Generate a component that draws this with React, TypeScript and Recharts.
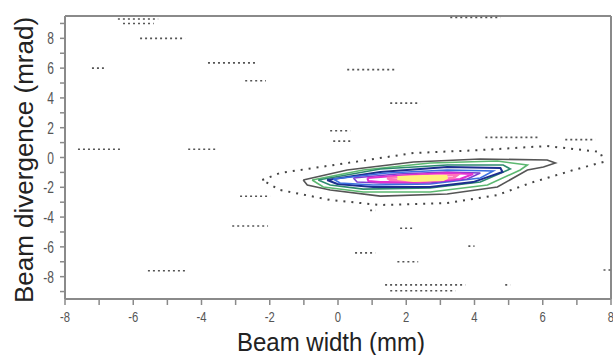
import { ComposedChart, Scatter, XAxis, YAxis, Label } from "recharts"

// contour levels, outermost first: [x (mm), y (mrad)] vertices
const dotted = [
  [-2.22, -1.51], [-1.7, -1.04], [0.27, -0.37], [2.21, 0.3], [4.17, 0.5], [6.13, 0.77],
  [7.69, 0.37], [7.78, -0.3], [6.9, -0.84], [5.64, -1.71], [4.67, -2.52], [3.2, -3.06],
  [1.24, -3.19], [-0.23, -2.85], [-1.7, -2.18], [-2.22, -1.51],
]
const grayLevel = [
  [-1.02, -1.51], [0.27, -0.84], [2.21, -0.3], [4.17, -0.1], [6.13, -0.17], [6.37, -0.37],
  [6.02, -0.64], [5.55, -0.84], [4.67, -1.98], [3.2, -2.45], [1.24, -2.59], [-0.23, -2.18],
  [-0.9, -1.85], [-1.02, -1.51],
]
const greenLevel = [
  [-0.76, -1.51], [0.74, -0.84], [2.7, -0.37], [4.67, -0.24], [5.55, -0.5], [5.34, -0.84],
  [4.38, -1.85], [2.7, -2.32], [0.74, -2.32], [-0.43, -1.98], [-0.76, -1.51],
]
const tealLevel = [
  [-0.58, -1.51], [1.24, -0.77], [3.2, -0.5], [4.84, -0.5], [5.05, -0.77], [4.17, -1.65],
  [2.7, -2.05], [0.74, -2.12], [-0.23, -1.85], [-0.58, -1.51],
]
const navyLevel = [
  [-0.32, -1.51], [1.24, -0.97], [3.2, -0.64], [4.76, -0.71], [4.82, -0.97], [3.96, -1.65],
  [2.7, -1.98], [1.03, -1.98], [-0.02, -1.78], [-0.32, -1.51],
]
const blueLevel = [
  [-0.14, -1.44], [1.44, -1.04], [3.2, -0.84], [4.55, -0.91], [4.17, -1.38], [2.7, -1.78],
  [1.03, -1.85], [0.06, -1.71], [-0.14, -1.44],
]
const violetLevel = [
  [0.45, -1.38], [1.74, -1.11], [3.2, -0.97], [4.17, -1.04], [3.79, -1.44], [2.7, -1.71],
  [1.24, -1.71], [0.56, -1.65], [0.45, -1.38],
]
const magentaLevel = [
  [0.86, -1.38], [2.03, -1.18], [3.2, -1.04], [3.96, -1.11], [3.58, -1.44], [2.5, -1.65],
  [1.24, -1.65], [0.89, -1.58], [0.86, -1.38],
]
const pinkLevel = [
  [1.44, -1.38], [2.41, -1.24], [3.5, -1.18], [3.38, -1.38], [2.41, -1.58], [1.53, -1.51], [1.44, -1.38],
]
const yellowLevel = [
  [1.74, -1.38], [2.5, -1.31], [3.2, -1.31], [3.08, -1.44], [2.21, -1.51], [1.74, -1.38],
]

// scattered noise: [x start, x end, y]
const specks = [
  [-6.45, -5.27, 9.3], [-6.3, -5.4, 9.0], [-5.8, -4.48, 8.0], [-7.21, -6.86, 6.0],
  [-3.81, -2.4, 6.35], [-2.72, -2.11, 5.15], [0.27, 1.65, 5.9], [1.53, 2.41, 3.65],
  [3.29, 4.76, 9.4], [-7.62, -6.39, 0.55], [-4.39, -3.6, 0.55], [-5.57, -4.48, -7.6],
  [-2.87, -1.99, -2.6], [-3.1, -2.05, -4.6], [-0.23, 0.36, 1.8], [-0.14, 0.42, 1.1],
  [0.5, 1.09, -6.4], [0.94, 1.09, -3.55], [1.82, 2.18, -4.75], [3.82, 4.0, -5.95],
  [1.74, 2.35, -7.0], [1.38, 3.73, -8.55], [1.53, 3.44, -8.95], [4.9, 5.05, -8.55],
  [4.32, 5.93, 1.35], [6.66, 7.54, 1.2], [7.78, 7.98, -7.55],
]

const xTicks = [-8, -7, -6, -5, -4, -3, -2, -1, 0, 1, 2, 3, 4, 5, 6, 7, 8]
const yTicks = [-9, -8, -7, -6, -5, -4, -3, -2, -1, 0, 1, 2, 3, 4, 5, 6, 7, 8, 9]

const levels = [
  { pts: dotted, stroke: "#444", width: 2, dash: "2 6" },
  { pts: grayLevel, stroke: "#555", width: 1.6 },
  { pts: greenLevel, stroke: "#5cb870", width: 1.6 },
  { pts: tealLevel, stroke: "#2e8b6e", width: 1.6 },
  { pts: navyLevel, stroke: "#1c2f8f", width: 2 },
  { pts: blueLevel, stroke: "#3b6fe0", width: 1.6 },
  { pts: violetLevel, stroke: "#7b3fd0", width: 1.6 },
  { pts: magentaLevel, stroke: "#e22fd0", width: 2 },
  { pts: pinkLevel, stroke: "#ff78b8", width: 2.5 },
  { pts: yellowLevel, stroke: "#fff27a", width: 4 },
]

const axisColor = "#8a8a8a"
const tickFont = "'Liberation Sans', Arial, sans-serif"

const toPts = (arr: number[][]) => arr.map(([x, y]) => ({ x, y }))

const BottomTick = (props: any) => {
  const { x, y, payload } = props
  const v = payload.value
  return (
    <g>
      <line x1={x} x2={x} y1={y} y2={y + 6} stroke={axisColor} strokeWidth={1.5} />
      {v % 2 === 0 && (
        <text transform={`translate(${x},${y + 23}) scale(0.75,1)`} textAnchor="middle" fontSize={15} fill="#555" fontFamily={tickFont}>
          {v}
        </text>
      )}
    </g>
  )
}

const TopTick = (props: any) => {
  const { x, y } = props
  return <line x1={x} x2={x} y1={y} y2={y - 5} stroke={axisColor} strokeWidth={1.5} />
}

const LeftTick = (props: any) => {
  const { x, y, payload } = props
  const v = payload.value
  return (
    <g>
      <line x1={x - 5} x2={x} y1={y} y2={y} stroke={axisColor} strokeWidth={1.5} />
      {v % 2 === 0 && (
        <text transform={`translate(${x - 11},${y + 6}) scale(0.75,1)`} textAnchor="end" fontSize={16} fill="#555" fontFamily={tickFont}>
          {v}
        </text>
      )}
    </g>
  )
}

const RightTick = (props: any) => {
  const { x, y } = props
  return <line x1={x} x2={x + 5} y1={y} y2={y} stroke={axisColor} strokeWidth={1.5} />
}

export default function App() {
  return (
    <div style={{ position: "absolute", left: 0, top: 0 }}>
      <ComposedChart width={613} height={355} margin={{ top: 0, right: 0, left: 0, bottom: 0 }}>
        <XAxis
          xAxisId="b"
          dataKey="x"
          type="number"
          domain={[-8, 8]}
          ticks={xTicks}
          interval={0}
          height={56}
          tickSize={0}
          tickMargin={0}
          tick={<BottomTick />}
          axisLine={{ stroke: axisColor, strokeWidth: 2 }}
        >
          <Label
            content={() => (
              <text x={331} y={351} textAnchor="middle" fontSize={25} fill="#222" fontFamily={tickFont} textLength={188} lengthAdjust="spacingAndGlyphs">
                Beam width (mm)
              </text>
            )}
          />
        </XAxis>
        <XAxis
          xAxisId="t"
          orientation="top"
          type="number"
          domain={[-8, 8]}
          ticks={xTicks}
          interval={0}
          height={16}
          tickSize={0}
          tickMargin={0}
          tick={<TopTick />}
          axisLine={{ stroke: axisColor, strokeWidth: 2 }}
        />
        <YAxis
          yAxisId="l"
          dataKey="y"
          type="number"
          domain={[-9.5, 9.5]}
          ticks={yTicks}
          interval={0}
          width={65}
          tickSize={0}
          tickMargin={0}
          tick={<LeftTick />}
          axisLine={{ stroke: axisColor, strokeWidth: 2 }}
        >
          <Label
            content={() => (
              <text x={33} y={160} transform="rotate(-90, 33, 160)" textAnchor="middle" fontSize={26} fill="#222" fontFamily={tickFont}>
                Beam divergence (mrad)
              </text>
            )}
          />
        </YAxis>
        <YAxis
          yAxisId="r"
          orientation="right"
          type="number"
          domain={[-9.5, 9.5]}
          ticks={yTicks}
          interval={0}
          width={2}
          tickSize={0}
          tickMargin={0}
          tick={<RightTick />}
          axisLine={{ stroke: axisColor, strokeWidth: 2 }}
        />
        {specks.map(([a, b, y], i) => (
          <Scatter
            key={"s" + i}
            xAxisId="b"
            yAxisId="l"
            data={[{ x: a, y }, { x: b, y }]}
            line={{ stroke: "#555", strokeWidth: 1.6, strokeDasharray: "2 3" }}
            lineType="joint"
            shape={() => <g />}
            isAnimationActive={false}
          />
        ))}
        {levels.map((lv, i) => (
          <Scatter
            key={"c" + i}
            xAxisId="b"
            yAxisId="l"
            data={toPts(lv.pts)}
            line={{ stroke: lv.stroke, strokeWidth: lv.width, strokeDasharray: lv.dash, fill: "none" }}
            lineType="joint"
            shape={() => <g />}
            isAnimationActive={false}
          />
        ))}
      </ComposedChart>
    </div>
  )
}
